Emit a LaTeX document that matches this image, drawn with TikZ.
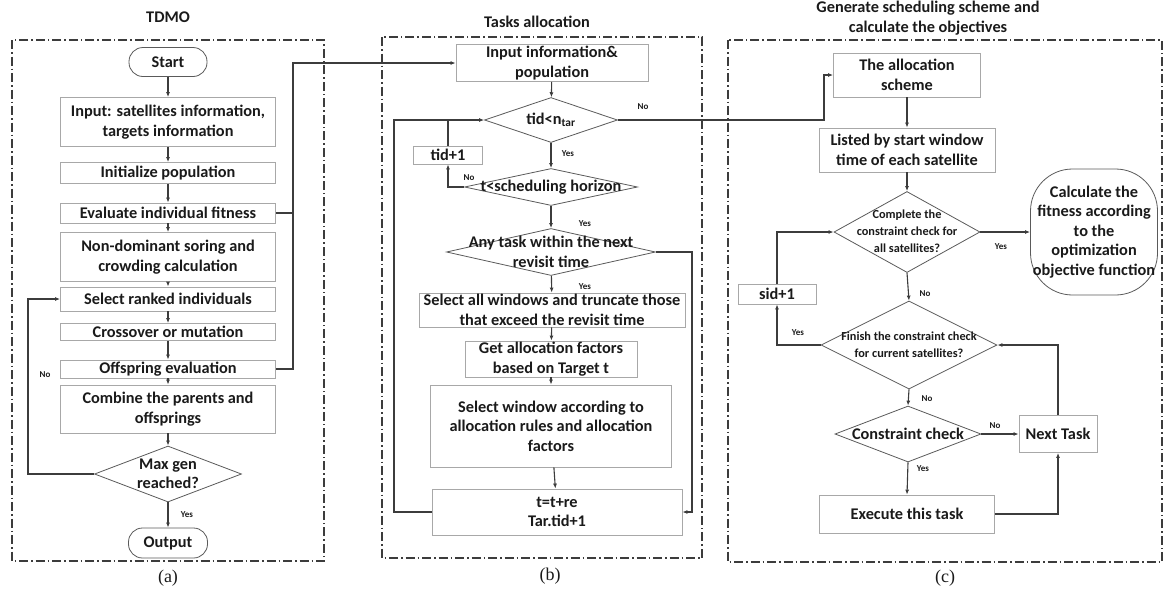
\documentclass[tikz,border=0pt]{standalone}
\usepackage{fontspec}
\setmainfont{Carlito}
\newfontfamily\tmsf{Liberation Serif}
\usetikzlibrary{shapes.geometric,arrows.meta}
\definecolor{linegray}{HTML}{3C3C3C}
\definecolor{boxgray}{HTML}{A8A8A8}
\definecolor{diagray}{HTML}{5A5A5A}
\definecolor{txt}{HTML}{1A1A1A}
\tikzset{
  box/.style={draw=boxgray,line width=0.8pt,fill=white,align=center,inner sep=1pt,
    font=\fontsize{16.3}{19.5}\selectfont\bfseries,text=txt},
  term/.style={box,draw=diagray,rounded corners=14pt},
  dia/.style={diamond,draw=diagray,line width=0.8pt,inner sep=0pt,fill=white},
  dtext/.style={align=center,font=\fontsize{16.3}{19.5}\selectfont\bfseries,text=txt},
  stext/.style={align=center,font=\fontsize{12.3}{17}\selectfont\bfseries,text=txt},
  conn/.style={draw=linegray,line width=1.1pt,-{Latex[length=5pt,width=4pt]}},
  plain/.style={draw=linegray,line width=1.1pt},
  lbl/.style={font=\fontsize{9}{10}\selectfont\bfseries,text=txt},
  frame/.style={draw=linegray,line width=1.1pt,dash pattern=on 9pt off 3pt on 1.5pt off 3pt},
  ttl/.style={align=center,font=\fontsize{16.3}{20}\selectfont\bfseries,text=txt},
  captxt/.style={font=\tmsf\fontsize{18}{20}\selectfont,text=txt}
}
\begin{document}
\begin{tikzpicture}[x=1pt,y=-1pt]
\useasboundingbox (0,0) rectangle (1167,595);
% frames
\draw[frame] (12,40) rectangle (324,561);
\draw[frame] (382,37) rectangle (702,558);
\draw[frame] (728,40) rectangle (1162,562);
% titles
\node[ttl] (ta) at (168,17) {TDMO};
\node[ttl] (tb) at (537,22) {Tasks allocation};
\node[ttl] (tc) at (928,18) {Generate scheduling scheme and\\calculate the objectives};
\node[captxt] (ca) at (168,578) {(a)};
\node[captxt] (cb) at (550,576) {(b)};
\node[captxt] (cc2) at (945,578) {(c)};

% ---------------- panel a
\node[term,minimum width=78pt,minimum height=29pt] (start) at (168,62) {Start};
\node[box,minimum width=215pt,minimum height=49pt] (in1) at (168,122) {Input: satellites information,\\targets information};
\node[box,minimum width=215pt,minimum height=21pt] (init) at (168,173) {Initialize population};
\node[box,minimum width=215pt,minimum height=20pt] (eval) at (168,213) {Evaluate individual fitness};
\node[box,minimum width=215pt,minimum height=49pt] (nds) at (168,257) {Non-dominant soring and\\crowding calculation};
\node[box,minimum width=215pt,minimum height=24pt] (sel) at (168,299) {Select ranked individuals};
\node[box,minimum width=215pt,minimum height=17pt] (cross) at (168,332) {Crossover or mutation};
\node[box,minimum width=215pt,minimum height=18pt] (off) at (168,369) {Offspring evaluation};
\node[box,minimum width=215pt,minimum height=48pt] (comb) at (168,409) {Combine the parents and\\offsprings};
\node[dia,minimum width=147pt,minimum height=56pt] (maxg) at (168,474) {};
\node[dtext] (maxgt) at (maxg) {Max gen\\reached?};
\node[term,minimum width=79pt,minimum height=30pt] (out) at (168,543) {Output};

\draw[conn] (start) -- (in1);
\draw[conn] (in1) -- (init);
\draw[conn] (init) -- (eval);
\draw[conn] (eval) -- (nds);
\draw[conn] (nds) -- (sel);
\draw[conn] (sel) -- (cross);
\draw[conn] (cross) -- (off);
\draw[conn] (off) -- (comb);
\draw[conn] (comb) -- (maxg);
\draw[conn] (maxg) -- (out);
\node[lbl] (ya) at (187,515) {Yes};
\draw[conn] (maxg.west) -- (28,474) |- (sel.west);
\node[lbl] (na) at (45,375) {No};
\draw[plain] (eval.east) -- (293,213);

% ---------------- panel b
\node[box,minimum width=192pt,minimum height=37pt] (inb) at (552,63) {Input information\&\\population};
\node[dia,minimum width=133pt,minimum height=45pt] (tid) at (551,120) {};
\node[dtext] (tidt) at (tid) {tid<n\textsubscript{tar}};
\node[box,minimum width=69pt,minimum height=18pt] (tidp) at (448,155) {tid+1};
\node[dia,minimum width=173pt,minimum height=37pt] (tsh) at (551,187) {};
\node[dtext] (tsht) at (tsh) {t<scheduling horizon};
\node[dia,minimum width=209pt,minimum height=47pt] (any) at (551,252) {};
\node[dtext] (anyt) at (any) {Any task within the next\\revisit time};
\node[box,minimum width=266pt,minimum height=34pt] (selw) at (552,310) {Select all windows and truncate those\\that exceed the revisit time};
\node[box,minimum width=172pt,minimum height=36pt] (gaf) at (551,359) {Get allocation factors\\based on Target t};
\node[box,minimum width=241pt,minimum height=82pt] (swin) at (551,426) {Select window according to\\allocation rules and allocation\\factors};
\node[box,minimum width=250pt,minimum height=46pt] (tre) at (557,512) {t=t+re\\Tar.tid+1};

\draw[conn] (off.east) -- (293,369) |- (inb.west);
\draw[conn] (inb) -- (tid);
\draw[conn] (tid) -- (tsh);
\node[lbl] (yb1) at (568,154) {Yes};
\draw[conn] (tsh.west) -| (tidp.south);
\node[lbl] (nb1) at (469,178) {No};
\draw[plain] (tidp.north) -- (448,120);
\draw[conn] (tsh) -- (any);
\node[lbl] (yb2) at (585,224) {Yes};
\draw[conn] (any) -- (selw);
\node[lbl] (yb3) at (585,287) {Yes};
\draw[conn] (selw) -- (gaf);
\draw[conn] (gaf) -- (swin);
\draw[conn] (swin) -- (tre);
\draw[conn] (any.east) -- (692,252) |- (tre.east);
\draw[conn] (tre.west) -- (394,512) |- (tid.west);
\node[lbl] (nb2) at (643,107) {No};

% ---------------- panel c
\node[box,minimum width=147pt,minimum height=44pt] (alloc) at (907,75) {The allocation\\scheme};
\node[box,minimum width=176pt,minimum height=44pt] (list) at (907,150) {Listed by start window\\time of each satellite};
\node[dia,minimum width=146pt,minimum height=81pt] (comp) at (907,232) {};
\node[stext] (compt) at (907,231) {Complete the\\constraint check for\\all satellites?};
\node[box,draw=diagray,rounded corners=42pt,minimum width=127pt,minimum height=126pt] (calc) at (1094,232) {Calculate the\\fitness according\\to the\\optimization\\objective function};
\node[box,minimum width=78pt,minimum height=20pt] (sid) at (777,294) {sid+1};
\node[dia,minimum width=176pt,minimum height=88pt] (fin) at (909,345) {};
\node[stext] (fint) at (909,345) {Finish the constraint check\\for current satellites?};
\node[dia,minimum width=146pt,minimum height=56pt] (cc) at (908,434) {};
\node[dtext] (cct) at (cc) {Constraint check};
\node[box,minimum width=78pt,minimum height=37pt] (next) at (1058,434) {Next Task};
\node[box,minimum width=175pt,minimum height=38pt] (exe) at (907,514) {Execute this task};

\draw[conn] (tid.east) -- (824,120) |- (alloc.west);
\draw[conn] (alloc) -- (list);
\draw[conn] (list) -- (comp);
\draw[conn] (comp.east) -- (calc.west);
\node[lbl] (yc1) at (1001,247) {Yes};
\draw[conn] (comp.south) -- (fin.north);
\node[lbl] (nc1) at (925,294) {No};
\draw[conn] (fin.west) -| (sid.south);
\node[lbl] (yc2) at (798,333) {Yes};
\draw[conn] (sid.north) |- (comp.west);
\draw[conn] (fin.south) -- (cc.north);
\node[lbl] (nc2) at (927,399) {No};
\draw[conn] (cc.east) -- (next.west);
\node[lbl] (nc3) at (995,426) {No};
\draw[conn] (next.north) |- (fin.east);
\draw[conn] (cc.south) -- (exe.north);
\node[lbl] (yc3) at (923,469) {Yes};
\draw[conn] (exe.east) -| (next.south);
\end{tikzpicture}
\end{document}
